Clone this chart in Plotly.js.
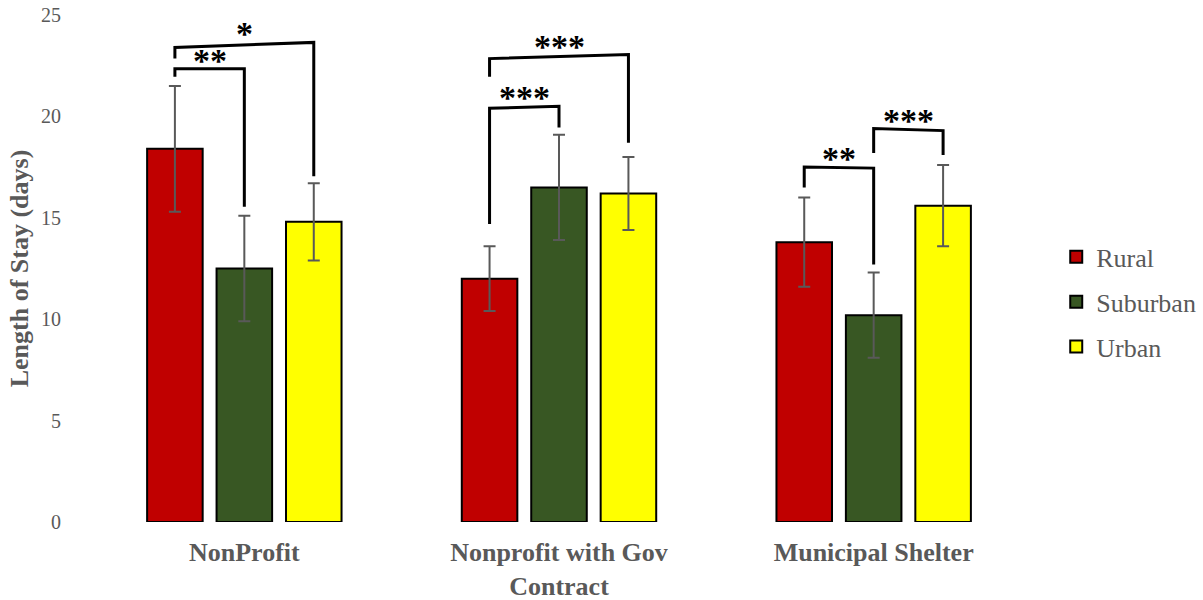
<!DOCTYPE html>
<html>
<head>
<meta charset="utf-8">
<script src="https://cdn.plot.ly/plotly-3.0.1.min.js"></script>
<style>
  html, body { margin: 0; padding: 0; background: #ffffff; }
  #chart { width: 1203px; height: 600px; }
</style>
</head>
<body>
<div id="chart"></div>
<script>
// Shelter types (x categories)
const categories = ['NonProfit', 'Nonprofit with Gov<br>Contract', 'Municipal Shelter'];

// Mean length of stay (days) and error-bar half-widths per location
const ruralDays = [18.4, 12.0, 13.8];
const ruralErr = [3.1, 1.6, 2.2];
const suburbanDays = [12.5, 16.5, 10.2];
const suburbanErr = [2.6, 2.6, 2.1];
const urbanDays = [14.8, 16.2, 15.6];
const urbanErr = [1.9, 1.8, 2.0];

const seriesNames = ['Rural', 'Suburban', 'Urban'];

// Significance brackets: category index, bars joined (0=Rural,1=Suburban,2=Urban),
// height at each end of the bar, foot of each leg, and the star label
const brGroup = [0, 0, 1, 1, 2, 2];
const brFrom = [0, 0, 0, 0, 0, 1];
const brTo = [1, 2, 2, 1, 1, 2];
const brTopL = [22.35, 23.4, 22.85, 20.4, 17.5, 19.4];
const brTopR = [22.35, 23.65, 23.05, 20.5, 17.45, 19.3];
const brFootL = [21.95, 22.85, 21.95, 14.7, 16.5, 18.2];
const brFootR = [15.55, 17.05, 18.7, 19.45, 12.7, 18.1];
const brLabel = ['**', '*', '***', '***', '**', '***'];

const BARGAP = 0.338;
const GROUPGAP = 0.2;
const slot = (1 - BARGAP) / 3;
const GRAY = '#595959';
const SERIF = '"Liberation Serif", "Times New Roman", serif';

const colors = ['#C00000', '#385723', '#FFFF00'];
const values = [ruralDays, suburbanDays, urbanDays];
const errors = [ruralErr, suburbanErr, urbanErr];

const traces = seriesNames.map((name, i) => ({
  type: 'bar',
  name: name,
  x: categories,
  y: values[i],
  legendgroup: name,
  marker: { color: colors[i], line: { color: '#000000', width: 2 } },
  error_y: { type: 'data', array: errors[i], visible: true, color: GRAY, thickness: 2, width: 6 },
  hoverinfo: 'x+y+name'
}));

// bar centre on the numeric category scale
function barX(g, b) { return g + (b - 1) * slot; }

const shapes = [];
const annotations = [];
for (let k = 0; k < brGroup.length; k++) {
  const x1 = barX(brGroup[k], brFrom[k]);
  const x2 = barX(brGroup[k], brTo[k]);
  shapes.push({
    type: 'path',
    xref: 'x', yref: 'y',
    path: 'M ' + x1 + ',' + brFootL[k] + ' L ' + x1 + ',' + brTopL[k] +
          ' L ' + x2 + ',' + brTopR[k] + ' L ' + x2 + ',' + brFootR[k],
    line: { color: '#000000', width: 3 }
  });
  annotations.push({
    xref: 'x', yref: 'y',
    x: (x1 + x2) / 2,
    y: Math.max(brTopL[k], brTopR[k]),
    yanchor: 'bottom',
    yshift: -12,
    text: '<b>' + brLabel[k] + '</b>',
    showarrow: false,
    font: { family: SERIF, size: 34, color: '#000000' }
  });
}

const layout = {
  width: 1203,
  height: 600,
  paper_bgcolor: '#ffffff',
  plot_bgcolor: '#ffffff',
  margin: { l: 87, r: 172, t: 15, b: 78, autoexpand: false },
  barmode: 'group',
  bargap: BARGAP,
  bargroupgap: GROUPGAP,
  font: { family: SERIF, color: GRAY },
  xaxis: {
    type: 'category',
    showline: false,
    showgrid: false,
    zeroline: false,
    ticks: '',
    ticklabelstandoff: 12,
    tickfont: { family: SERIF, size: 26, color: GRAY, weight: 'bold' }
  },
  yaxis: {
    range: [0, 25],
    tickvals: [0, 5, 10, 15, 20, 25],
    showline: false,
    showgrid: false,
    zeroline: false,
    ticks: '',
    ticklabelstandoff: 25,
    tickfont: { family: SERIF, size: 20, color: GRAY },
    title: {
      text: '<b>Length of Stay (days)</b>',
      font: { family: SERIF, size: 26, color: GRAY },
      standoff: 4
    }
  },
  legend: {
    xref: 'container',
    x: 0.878,
    xanchor: 'left',
    y: 0.434,
    yanchor: 'middle',
    traceorder: 'grouped',
    tracegroupgap: 8,
    font: { family: SERIF, size: 26, color: GRAY },
    bgcolor: 'rgba(0,0,0,0)'
  },
  shapes: shapes,
  annotations: annotations,
  showlegend: true
};

Plotly.newPlot('chart', traces, layout, { displayModeBar: false, staticPlot: true });
</script>
</body>
</html>
